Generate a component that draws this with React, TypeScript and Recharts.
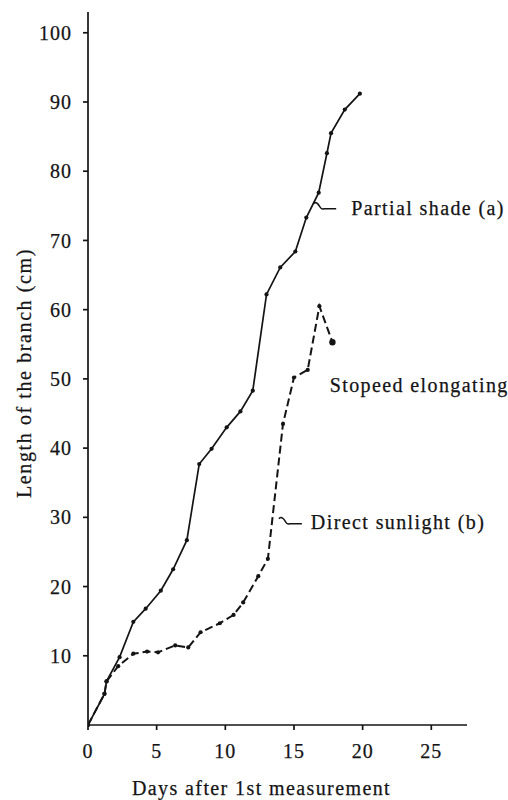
import { LineChart, Line, XAxis, YAxis, ReferenceDot, Label } from 'recharts';

// partial shade (a)
const shadeDays = [0, 1.2, 1.35, 2.3, 3.3, 4.2, 5.3, 6.2, 7.2, 8.1, 9.0, 10.1, 11.1, 12.0, 13.0, 14.0, 15.1, 15.9, 16.8, 17.4, 17.7, 18.7, 19.8];
const shadeLength = [0, 4.5, 6.3, 9.8, 14.9, 16.8, 19.4, 22.5, 26.7, 37.7, 39.9, 43.0, 45.3, 48.3, 62.2, 66.1, 68.4, 73.3, 76.9, 82.6, 85.5, 88.9, 91.2];

// direct sunlight (b)
const sunDays = [0, 1.2, 1.35, 2.2, 3.3, 4.3, 5.1, 6.35, 7.3, 8.2, 9.6, 10.6, 11.3, 12.4, 13.1, 14.2, 15.0, 16.0, 16.85, 17.8];
const sunLength = [0, 4.5, 6.3, 8.5, 10.3, 10.6, 10.5, 11.5, 11.2, 13.4, 14.7, 15.9, 17.7, 21.5, 24.0, 43.5, 50.2, 51.3, 60.5, 55.3];

const xTicks = [0, 5, 10, 15, 20, 25];
const yTicks = [10, 20, 30, 40, 50, 60, 70, 80, 90, 100];

const shadeData = shadeDays.map((d, i) => ({ day: d, len: shadeLength[i] }));
const sunData = sunDays.map((d, i) => ({ day: d, len: sunLength[i] }));

const INK = '#141414';
const FONT = 'Liberation Serif';

const textStyle = { fontFamily: FONT, fontSize: 20, fill: INK, letterSpacing: 1.4, stroke: INK, strokeWidth: 0.25 };

function Note({ viewBox, text, dx, dy }: any) {
  const { cx, cy } = viewBox || {};
  const x = cx ?? viewBox.x;
  const y = cy ?? viewBox.y;
  return (
    <g>
      <path
        d={`M ${x} ${y} q 3 -3 6 2 q 2 4 5 3 L ${x + 23} ${y + 5}`}
        fill="none"
        stroke={INK}
        strokeWidth={1.5}
      />
      <text x={x + dx} y={y + dy} fontFamily={FONT} style={textStyle}>{text}</text>
    </g>
  );
}

function SunDot(props: any) {
  const { cx, cy, index } = props;
  const r = index === sunData.length - 1 ? 3.2 : 2.1;
  return <circle key={`s-${index}`} cx={cx} cy={cy} r={r} fill={INK} />;
}

const tickProps = { fontFamily: FONT, fontSize: 20, fill: INK, letterSpacing: 1, stroke: INK, strokeWidth: 0.25 };

export default function App() {
  return (
    <div style={{ position: 'absolute', left: 0, top: 0, background: '#fff', fontFamily: FONT }}>
      <LineChart
        width={508}
        height={800}
        margin={{ top: 12, right: 41, left: 28, bottom: 30 }}
      >
        <XAxis
          type="number"
          dataKey="day"
          domain={[0, 27.6]}
          ticks={xTicks}
          allowDataOverflow
          stroke={INK}
          strokeWidth={1.7}
          tickSize={5}
          tickMargin={14}
          height={45}
          tick={tickProps}
        >
          <Label
            content={({ viewBox }: any) => (
              <text
                x={viewBox.x + viewBox.width / 2 - 16}
                y={795}
                textAnchor="middle"
                fontFamily={FONT}
                style={textStyle}
              >
                Days after 1st measurement
              </text>
            )}
          />
        </XAxis>
        <YAxis
          type="number"
          dataKey="len"
          domain={[0, 103]}
          ticks={yTicks}
          stroke={INK}
          strokeWidth={1.7}
          tickSize={5}
          tickMargin={11}
          width={60}
          tick={tickProps}
        >
          <Label
            content={() => (
              <text
                x={31}
                y={373}
                textAnchor="middle"
                transform="rotate(-90, 31, 373)"
                fontFamily={FONT}
                style={{ ...textStyle, letterSpacing: 1.6 }}
              >
                Length of the branch (cm)
              </text>
            )}
          />
        </YAxis>
        <Line
          data={shadeData}
          dataKey="len"
          type="linear"
          stroke={INK}
          strokeWidth={1.7}
          dot={{ r: 2.1, fill: INK, stroke: INK, strokeWidth: 0 }}
          isAnimationActive={false}
        />
        <Line
          data={sunData}
          dataKey="len"
          type="linear"
          stroke={INK}
          strokeWidth={2}
          strokeDasharray="8 4"
          dot={SunDot}
          isAnimationActive={false}
        />
        <ReferenceDot
          x={16.4}
          y={75.3}
          r={0}
          isFront
          label={(p: any) => <Note {...p} text="Partial shade (a)" dx={38} dy={11} />}
        />
        <ReferenceDot
          x={13.9}
          y={29.8}
          r={0}
          isFront
          label={(p: any) => <Note {...p} text="Direct sunlight (b)" dx={32} dy={10} />}
        />
        <ReferenceDot
          x={17.6}
          y={50.5}
          r={0}
          isFront
          label={({ viewBox }: any) => (
            <text
              x={viewBox.x + viewBox.width / 2}
              y={viewBox.y + viewBox.height / 2 + 17}
              fontFamily={FONT}
              style={textStyle}
            >
              Stopeed elongating
            </text>
          )}
        />
      </LineChart>
    </div>
  );
}
